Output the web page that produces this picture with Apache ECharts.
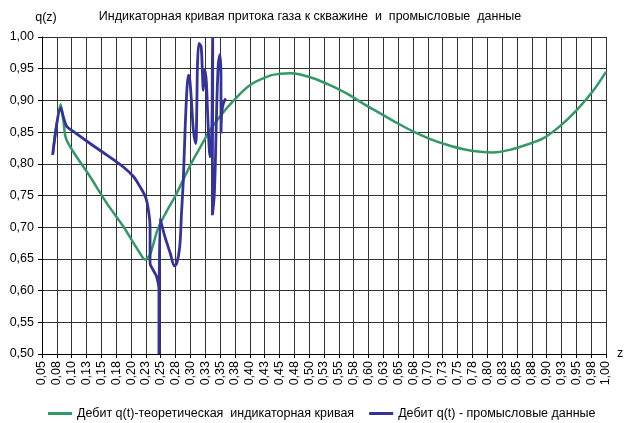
<!DOCTYPE html>
<html><head><meta charset="utf-8">
<script src="https://cdn.jsdelivr.net/npm/echarts@6/dist/echarts.min.js"></script>
<style>html,body{margin:0;padding:0;background:#fff}#c{width:627px;height:423px}</style>
</head><body><div id="c"></div>
<script>
const titleText = 'Индикаторная кривая притока газа к скважине  и  промысловые  данные';
const seriesNames = ['Дебит q(t)-теоретическая  индикаторная кривая', 'Дебит q(t) - промысловые данные'];
const yAxisName = 'q(z)';
const xAxisName = 'z';

const greenZ = [0.068, 0.0815, 0.0859, 0.0904, 0.1027, 0.1308, 0.159, 0.187, 0.215, 0.2235, 0.232, 0.245, 0.260, 0.275, 0.288, 0.301, 0.316, 0.331, 0.350, 0.373, 0.400, 0.434, 0.451, 0.468, 0.485, 0.507, 0.535, 0.563, 0.591, 0.619, 0.647, 0.675, 0.704, 0.732, 0.760, 0.788, 0.810, 0.838, 0.866, 0.894, 0.922, 0.951, 0.979, 1.000];
const greenQ = [0.814, 0.894, 0.869, 0.840, 0.819, 0.780, 0.738, 0.701, 0.659, 0.649, 0.657, 0.697, 0.725, 0.750, 0.775, 0.800, 0.825, 0.850, 0.875, 0.900, 0.924, 0.939, 0.942, 0.943, 0.941, 0.935, 0.924, 0.911, 0.895, 0.880, 0.865, 0.851, 0.839, 0.830, 0.823, 0.819, 0.818, 0.822, 0.830, 0.840, 0.859, 0.885, 0.916, 0.945];

const blueZ = [0.068, 0.0815, 0.086, 0.0916, 0.1027, 0.131, 0.159, 0.187, 0.204, 0.215, 0.225, 0.230, 0.232, 0.232, 0.2375, 0.243, 0.247, 0.247, 0.2488, 0.257, 0.266, 0.273, 0.277, 0.282, 0.285, 0.288, 0.291, 0.294, 0.2966, 0.299, 0.302, 0.305, 0.309, 0.3106, 0.312, 0.3145, 0.318, 0.320, 0.3217, 0.3245, 0.327, 0.329, 0.333, 0.336, 0.337, 0.3375, 0.3375, 0.337, 0.337, 0.340, 0.342, 0.344, 0.347, 0.3498, 0.3515, 0.3515, 0.3527, 0.3554, 0.3594];
const blueQ = [0.814, 0.888, 0.874, 0.859, 0.851, 0.832, 0.814, 0.795, 0.780, 0.764, 0.746, 0.722, 0.701, 0.643, 0.632, 0.622, 0.601, 0.500, 0.714, 0.685, 0.659, 0.639, 0.643, 0.669, 0.722, 0.774, 0.853, 0.916, 0.940, 0.932, 0.895, 0.853, 0.832, 0.880, 0.959, 0.990, 0.985, 0.948, 0.916, 0.948, 0.927, 0.880, 0.811, 0.853, 0.958, 1.000, 0.906, 0.801, 0.719, 0.748, 0.801, 0.880, 0.958, 0.972, 0.932, 0.848, 0.880, 0.895, 0.903];

const greenData = greenZ.map((z, i) => [z, greenQ[i]]);
const blueData = blueZ.map((z, i) => [z, blueQ[i]]);

const FONT = 'Liberation Sans, Arial, sans-serif';
const FS = 12.5;
const gridColor = '#333';
function fmt2(v) {
  const n = Math.round(Math.round(v * 1000) / 10 + 1e-6);
  return (n / 100).toFixed(2).replace('.', ',');
}

const chart = echarts.init(document.getElementById('c'), null, {renderer: 'canvas'});
chart.setOption({
  animation: false,
  backgroundColor: '#fff',
  title: {
    text: titleText, left: 310, top: 10, textAlign: 'center', padding: 0,
    textStyle: {fontFamily: FONT, fontSize: FS, fontWeight: 'normal', color: '#000'}
  },
  legend: {
    left: 48, top: 407, itemWidth: 24, itemHeight: 3, itemGap: 15, padding: 0,
    icon: 'rect',
    textStyle: {fontFamily: FONT, fontSize: FS, color: '#000'},
    data: seriesNames
  },
  grid: {left: 42, right: 21, top: 37, bottom: 69, containLabel: false, show: false},
  xAxis: {
    type: 'value', min: 0.05, max: 1.0, interval: 0.025,
    name: xAxisName, nameLocation: 'end', nameGap: 11,
    nameTextStyle: {fontFamily: FONT, fontSize: FS, color: '#000', padding: [22, 0, 0, 0]},
    axisLine: {show: true, lineStyle: {color: '#000', width: 1}},
    axisTick: {show: true, length: 4, lineStyle: {color: '#000'}},
    axisLabel: {rotate: 90, margin: 7, fontFamily: FONT, fontSize: FS, color: '#000', formatter: fmt2},
    splitLine: {show: true, lineStyle: {color: gridColor, width: 1}}
  },
  yAxis: {
    type: 'value', min: 0.5, max: 1.0, interval: 0.05,
    name: yAxisName, nameLocation: 'end', nameGap: 13,
    nameTextStyle: {fontFamily: FONT, fontSize: FS, color: '#000', padding: [0, 0, 0, 8]},
    axisLine: {show: true, lineStyle: {color: '#000', width: 1}},
    axisTick: {show: true, length: 4, lineStyle: {color: '#000'}},
    axisLabel: {margin: 8, fontFamily: FONT, fontSize: FS, color: '#000', formatter: v => v.toFixed(2).replace('.', ',')},
    splitLine: {show: true, lineStyle: {color: gridColor, width: 1}}
  },
  series: [
    {
      name: seriesNames[0], type: 'line', data: greenData, showSymbol: false, symbol: 'none',
      smooth: 0.3, color: '#339966', lineStyle: {color: '#339966', width: 2.5}, z: 2
    },
    {
      name: seriesNames[1], type: 'line', data: blueData, showSymbol: false, symbol: 'none',
      smooth: 0.3, color: '#333399', lineStyle: {color: '#333399', width: 2.8}, z: 3
    }
  ]
});
</script>
</body></html>
